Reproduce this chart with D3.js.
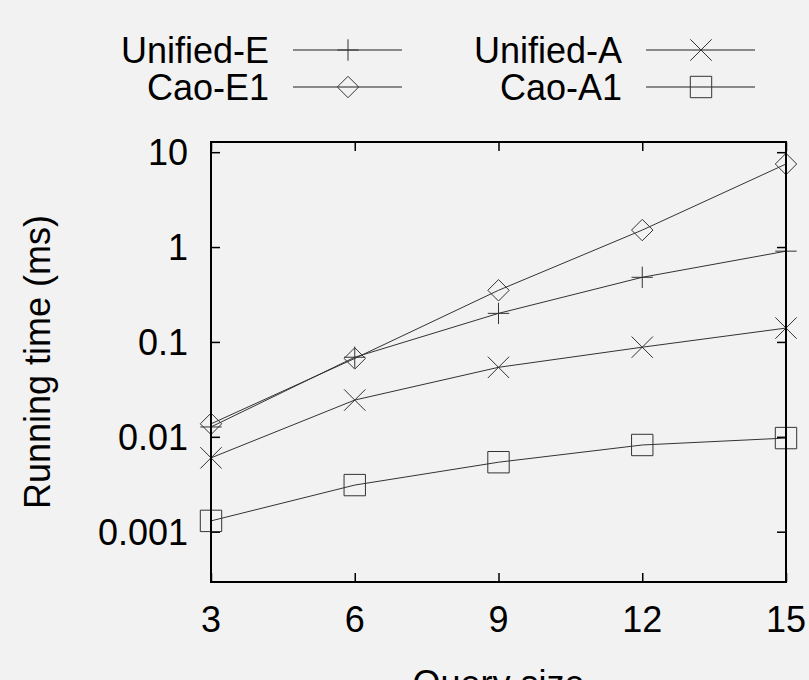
<!DOCTYPE html>
<style>
body { margin: 0; background: #f2f2f2; }
svg text { font-family: "Liberation Sans", Arial, sans-serif; fill: #000; }
</style>
<svg id="chart" width="809" height="680"></svg>
<script src="https://d3js.org/d3.v7.min.js"></script>
<script>

var querySizes = [3, 6, 9, 12, 15];
var unifiedE = [0.0127, 0.069, 0.20, 0.48, 0.905];
var caoE1 = [0.0137, 0.067, 0.35, 1.51, 7.5];
var unifiedA = [0.006, 0.0244, 0.054, 0.088, 0.14];
var caoA1 = [0.0013, 0.0031, 0.0054, 0.0082, 0.0097];
var yTicks = [0.001, 0.01, 0.1, 1, 10];

var series = [
  {name: "Unified-E", values: unifiedE, symbol: "plus"},
  {name: "Unified-A", values: unifiedA, symbol: "cross"},
  {name: "Cao-E1", values: caoE1, symbol: "diamond"},
  {name: "Cao-A1", values: caoA1, symbol: "square"}
];

var svg = d3.select("#chart");
var margin = {top: 142, right: 23, bottom: 98, left: 211};
var width = +svg.attr("width") - margin.left - margin.right;
var height = +svg.attr("height") - margin.top - margin.bottom;
var g = svg.append("g").attr("transform", "translate(" + margin.left + "," + margin.top + ")");

var x = d3.scaleLinear().domain([3, 15]).range([0, width]);
var y = d3.scaleLog().domain([0.000295, 12.8]).range([height, 0]);

var lineColor = "#333";
var fontSize = 36;

// draw a symbol path centred on 0,0
function symbolPath(type, s) {
  if (type == "plus") return "M" + (-s) + ",0H" + s + "M0," + (-s) + "V" + s;
  if (type == "cross") return "M" + (-s) + "," + (-s) + "L" + s + "," + s + "M" + (-s) + "," + s + "L" + s + "," + (-s);
  if (type == "diamond") return "M0," + (-s) + "L" + s + ",0L0," + s + "L" + (-s) + ",0Z";
  return "M" + (-s) + "," + (-s) + "H" + s + "V" + s + "H" + (-s) + "Z";
}

function styleTicks(a) {
  a.select(".domain").remove();
  a.selectAll("line").attr("stroke", "#000").attr("stroke-width", 1.5);
}

// ticks, inward on all four sides
g.append("g")
    .call(d3.axisLeft(y).tickValues(yTicks).tickSize(-9).tickFormat(""))
    .call(styleTicks);
g.append("g")
    .attr("transform", "translate(" + width + ",0)")
    .call(d3.axisRight(y).tickValues(yTicks).tickSize(-9).tickFormat(""))
    .call(styleTicks);
g.append("g")
    .attr("transform", "translate(0," + height + ")")
    .call(d3.axisBottom(x).tickValues(querySizes).tickSize(-9).tickFormat(""))
    .call(styleTicks);
g.append("g")
    .call(d3.axisTop(x).tickValues(querySizes).tickSize(-9).tickFormat(""))
    .call(styleTicks);

// tick labels
g.selectAll(".ylab")
  .data(yTicks)
  .enter().append("text")
    .attr("x", -23)
    .attr("y", function(d) { return y(d); })
    .attr("dy", "0.36em")
    .attr("text-anchor", "end")
    .attr("font-size", fontSize)
    .text(function(d) { return d; });

g.selectAll(".xlab")
  .data(querySizes)
  .enter().append("text")
    .attr("x", function(d) { return x(d); })
    .attr("y", height + 50)
    .attr("text-anchor", "middle")
    .attr("font-size", fontSize)
    .text(function(d) { return d; });

svg.append("text")
    .attr("transform", "translate(50," + (margin.top + height / 2) + ") rotate(-90)")
    .attr("text-anchor", "middle")
    .attr("font-size", fontSize)
    .text("Running time (ms)");

svg.append("text")
    .attr("x", margin.left + width / 2)
    .attr("y", 696)
    .attr("text-anchor", "middle")
    .attr("font-size", fontSize)
    .text("Query size");

// series
var line = d3.line()
    .x(function(d, i) { return x(querySizes[i]); })
    .y(function(d) { return y(d); });

series.forEach(function(s) {
  g.append("path")
      .attr("d", line(s.values))
      .attr("fill", "none")
      .attr("stroke", lineColor)
      .attr("stroke-width", 1);
  g.selectAll(null)
    .data(s.values)
    .enter().append("path")
      .attr("transform", function(d, i) { return "translate(" + x(querySizes[i]) + "," + y(d) + ")"; })
      .attr("d", symbolPath(s.symbol, 10.7))
      .attr("fill", "none")
      .attr("stroke", lineColor)
      .attr("stroke-width", 1);
});

// frame
g.append("rect")
    .attr("width", width)
    .attr("height", height)
    .attr("fill", "none")
    .attr("stroke", "#000")
    .attr("stroke-width", 2);

// legend
var legend = svg.append("g");
var item = legend.selectAll("g")
  .data(series)
  .enter().append("g")
    .attr("transform", function(d, i) { return "translate(" + (i % 2 == 0 ? 0 : 353) + "," + (i < 2 ? 50 : 87) + ")"; });
item.append("text")
    .attr("x", 269)
    .attr("dy", "0.36em")
    .attr("text-anchor", "end")
    .attr("font-size", fontSize)
    .text(function(d) { return d.name; });
item.append("line")
    .attr("x1", 293).attr("x2", 402)
    .attr("stroke", "#666")
    .attr("stroke-width", 1.3);
item.append("path")
    .attr("transform", "translate(348,0)")
    .attr("d", function(d) { return symbolPath(d.symbol, 10.7); })
    .attr("fill", "none")
    .attr("stroke", lineColor);

</script>
